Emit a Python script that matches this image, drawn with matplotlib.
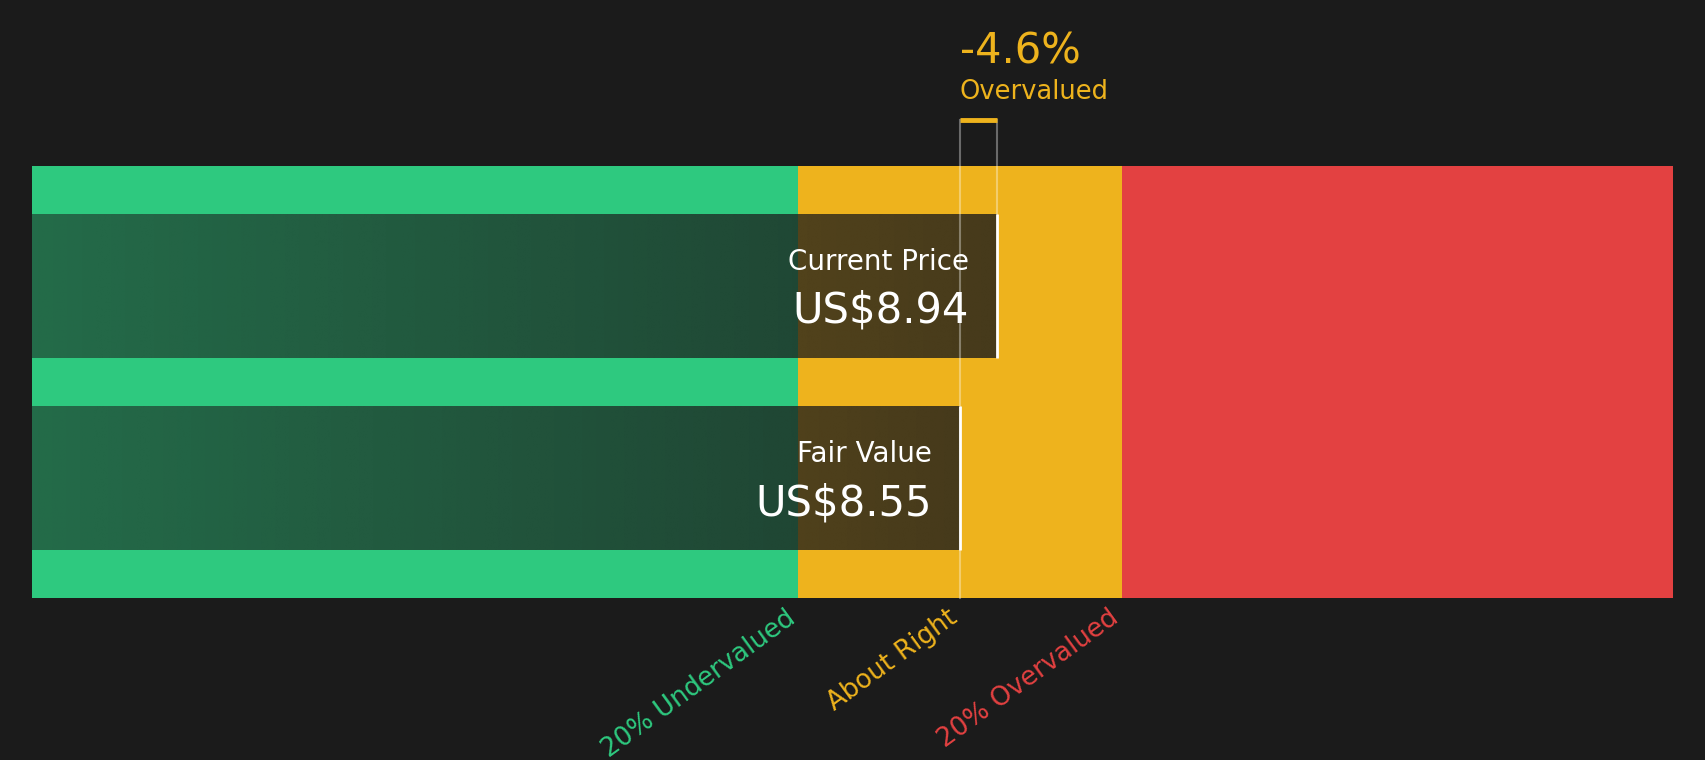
import numpy as np
import matplotlib.pyplot as plt
from matplotlib.transforms import ScaledTranslation, blended_transform_factory

# values
current_price = 8.94
fair_value = 8.55
x_min, x_max = -1.25, 16.08
bar_labels = ['Fair Value', 'Current Price']
bar_values = [fair_value, current_price]
zone_labels = ['20% Undervalued', 'About Right', '20% Overvalued']
zone_edges = [fair_value * 0.8, fair_value, fair_value * 1.2]

BG = '#1b1b1b'
GREEN = '#2ec97f'
YELLOW = '#eeb31d'
RED = '#e34141'
zone_colors = [GREEN, YELLOW, RED]

fig = plt.figure(figsize=(17.06, 7.6), dpi=100, facecolor=BG)
ax = fig.add_axes([32 / 1706, 162 / 760, 1641 / 1706, 432 / 760])
ax.set_facecolor(BG)
ax.set_xlim(x_min, x_max)
ax.set_ylim(-0.625, 1.625)
ax.axis('off')

# zone backgrounds
ax.axvspan(x_min, zone_edges[0], color=GREEN, lw=0)
ax.axvspan(zone_edges[0], zone_edges[2], color=YELLOW, lw=0)
ax.axvspan(zone_edges[2], x_max, color=RED, lw=0)

# dark gradient bars
h = 0.75
for i, val in enumerate(bar_values):
    alpha = np.linspace(0.54, 0.80, 256)
    img = np.zeros((1, 256, 4))
    img[..., :3] = 27 / 255
    img[0, :, 3] = alpha
    ax.imshow(img, extent=[x_min, val, i - h / 2, i + h / 2], aspect='auto',
              interpolation='bilinear', zorder=3)
    ax.plot([val, val], [i - h / 2, i + h / 2], color='white', lw=2, zorder=4,
            solid_capstyle='butt')

# reference lines + bracket
top_y = 1.625 + 0.1076 * 2.25
ax.plot([fair_value, fair_value], [-0.625, top_y], color='white',
        alpha=0.35, lw=1.5, zorder=5, clip_on=False)
ax.plot([current_price, current_price], [1 + h / 2, top_y],
        color='white', alpha=0.35, lw=1.5, zorder=5, clip_on=False)
ax.plot([fair_value, current_price], [top_y, top_y], color=YELLOW,
        lw=3.5, zorder=6, clip_on=False, solid_capstyle='butt')

tr = blended_transform_factory(ax.transData, ax.transAxes)
pct = (fair_value - current_price) / fair_value * 100
ax.text(fair_value, 1.238, f'{pct:.1f}%', transform=tr, color=YELLOW, fontsize=30,
        ha='left', va='baseline')
ax.text(fair_value, 1.155, 'Overvalued', transform=tr, color=YELLOW, fontsize=18.5,
        ha='left', va='baseline')

# bar labels
shift = ScaledTranslation(-0.28, 0, fig.dpi_scale_trans)
label_y = [(0.315, 0.192), (0.759, 0.637)]
for name, val, (y1, y2) in zip(bar_labels, bar_values, label_y):
    ax.text(val, y1, name, transform=tr + shift, color='white', fontsize=20,
            ha='right', va='baseline', zorder=7)
    ax.text(val, y2, f'US${val:.2f}', transform=tr + shift, color='white', fontsize=30,
            ha='right', va='baseline', zorder=7)

# zone labels below
nudge = ScaledTranslation(0.02, -0.07, fig.dpi_scale_trans)
for lab, x, c in zip(zone_labels, zone_edges, zone_colors):
    ax.text(x, 0, lab, transform=tr + nudge, color=c, fontsize=18.7, rotation=36,
            ha='right', va='top')

fig.savefig('out.png', dpi=100, facecolor=BG)
